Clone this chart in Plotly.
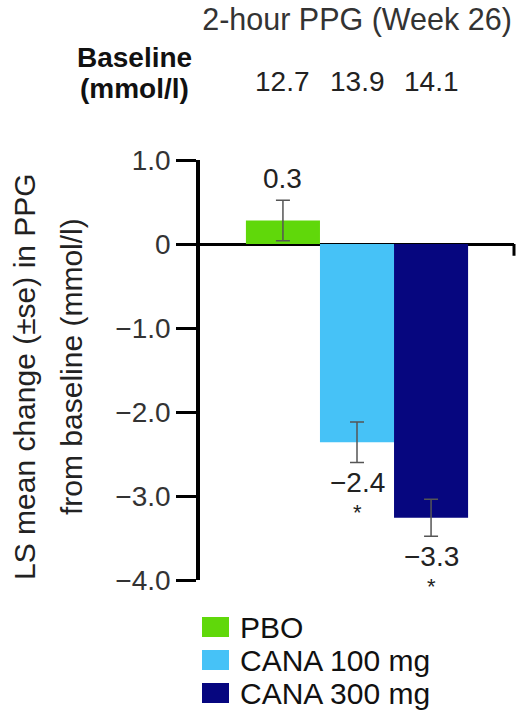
import plotly.graph_objects as go

groups = ["PBO", "CANA 100 mg", "CANA 300 mg"]
changes = [0.28, -2.36, -3.26]
se = [0.24, 0.24, 0.22]
value_labels = ["0.3", "\u22122.4", "\u22123.3"]
significance = ["", "*", "*"]
baseline = ["12.7", "13.9", "14.1"]
colors = ["#60d80a", "#46c2f7", "#06067f"]
yticks = [1, 0, -1, -2, -3, -4]
yticklabels = ["1.0", "0", "\u22121.0", "\u22122.0", "\u22123.0", "\u22124.0"]

FONT = "Liberation Sans, Arial, sans-serif"
TXT = "#222222"

# plot-area geometry (pixels) used to convert to paper coordinates
L, R, T, B = 200, 9, 160, 133
W, H = 523, 713
PW, PH = W - L - R, H - T - B


def py(ypx):
    return 1 - (ypx - T) / PH


def px(xpx):
    return (xpx - L) / PW


fig = go.Figure()
for i, (g, v, e, c) in enumerate(zip(groups, changes, se, colors)):
    fig.add_trace(go.Bar(
        x=[i], y=[v], name=g, width=1, showlegend=False,
        marker=dict(color=c, line=dict(width=0)),
        error_y=dict(type="data", array=[e], color="#555555", thickness=1.5, width=7),
    ))
    if v > 0:
        fig.add_annotation(x=i, y=v + e, text=value_labels[i], showarrow=False,
                           xanchor="center", yanchor="bottom", yshift=4,
                           font=dict(size=28, color=TXT, family=FONT))
    else:
        fig.add_annotation(x=i, y=v - e, text=value_labels[i], showarrow=False,
                           xanchor="center", yanchor="top", yshift=-3,
                           font=dict(size=28, color=TXT, family=FONT))
        fig.add_annotation(x=i, y=v - e, text=significance[i], showarrow=False,
                           xanchor="center", yanchor="top", yshift=-36,
                           font=dict(size=22, color=TXT, family=FONT))

# baseline values above bars
for i, b in enumerate(baseline):
    fig.add_annotation(x=i, y=py(81), yref="paper", text=b, showarrow=False,
                       xanchor="center", yanchor="middle",
                       font=dict(size=28, color=TXT, family=FONT))

fig.add_annotation(x=px(134), y=py(58), xref="paper", yref="paper",
                   text="<b>Baseline</b>", showarrow=False,
                   xanchor="center", yanchor="middle",
                   font=dict(size=28, color="#111111", family=FONT))
fig.add_annotation(x=px(134), y=py(89), xref="paper", yref="paper",
                   text="<b>(mmol/l)</b>", showarrow=False,
                   xanchor="center", yanchor="middle",
                   font=dict(size=28, color="#111111", family=FONT))

# y-axis title, two lines
fig.add_annotation(x=px(24), y=py(377), xref="paper", yref="paper",
                   text="LS mean change (\u00b1se) in PPG", textangle=-90,
                   xanchor="center", yanchor="middle",
                   showarrow=False, font=dict(size=30, color=TXT, family=FONT))
fig.add_annotation(x=px(71), y=py(367), xref="paper", yref="paper",
                   text="from baseline (mmol/l)", textangle=-90,
                   xanchor="center", yanchor="middle",
                   showarrow=False, font=dict(size=30, color=TXT, family=FONT))

# legend (manual, to match the large swatches)
leg_y = [627, 660, 693]
for g, c, yy in zip(groups, colors, leg_y):
    fig.add_shape(type="rect", xref="paper", yref="paper",
                  x0=px(202), x1=px(229), y0=py(yy - 10), y1=py(yy + 10),
                  fillcolor=c, line=dict(width=0))
    fig.add_annotation(x=px(238), y=py(yy), xref="paper", yref="paper",
                       text=g, showarrow=False, xanchor="left", yanchor="middle",
                       font=dict(size=30, color="#111111", family=FONT))

# small end tick on zero line
fig.add_shape(type="line", xref="paper", yref="y", x0=1, x1=1, y0=0, y1=-0.14,
              line=dict(color="black", width=3))

fig.update_layout(
    width=W, height=H,
    margin=dict(l=L, r=R, t=T, b=B),
    plot_bgcolor="white", paper_bgcolor="white",
    barmode="overlay",
    showlegend=False,
    title=dict(text="2-hour PPG (Week 26)", x=357 / W, xanchor="center",
               y=1 - 9 / H, yanchor="top",
               font=dict(size=30.5, color="#333333", family=FONT)),
    xaxis=dict(range=[-1.12, 3.12], showticklabels=False, showgrid=False,
               zeroline=False, showline=False, ticks=""),
    yaxis=dict(range=[-4, 1], tickvals=yticks, ticktext=yticklabels,
               showgrid=False, zeroline=True, zerolinecolor="black", zerolinewidth=3,
               showline=True, linecolor="black", linewidth=3.5,
               ticks="outside", ticklen=20, tickwidth=3, tickcolor="black",
               tickfont=dict(size=28, color="#333333", family=FONT)),
)

fig.write_html("out.html", config={"displayModeBar": False},
               post_script="document.body.style.margin='0';document.body.style.overflow='hidden';")
